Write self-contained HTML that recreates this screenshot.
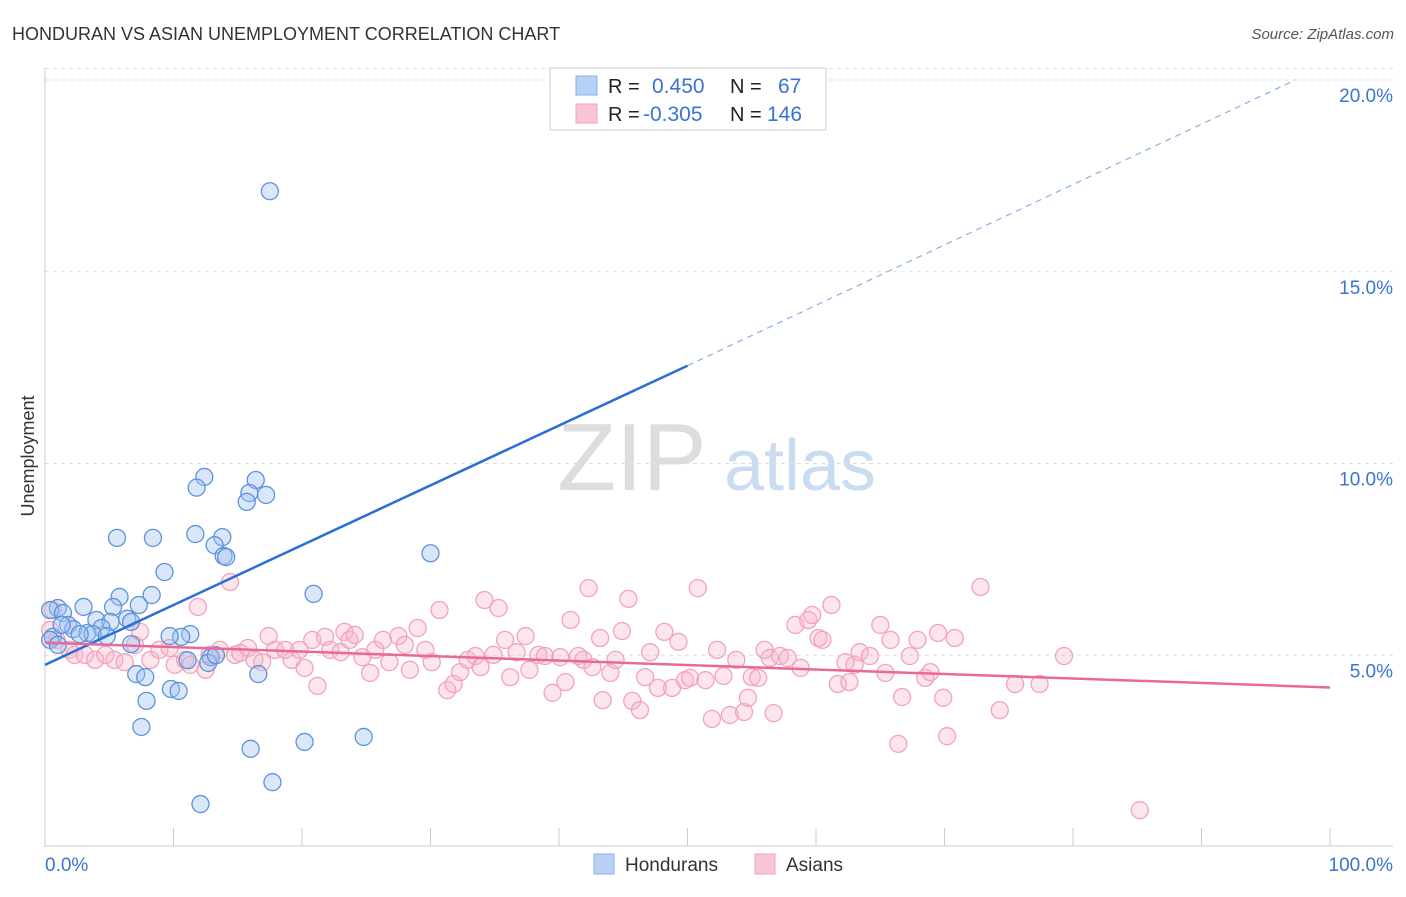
<!DOCTYPE html>
<html><head><meta charset="utf-8"><style>
body{margin:0;background:#fff;font-family:"Liberation Sans",sans-serif}
svg text{font-family:"Liberation Sans",sans-serif}
</style></head><body>
<svg id="c" width="1406" height="892" xmlns="http://www.w3.org/2000/svg">
<text x="12" y="40" font-size="18" fill="#333">HONDURAN VS ASIAN UNEMPLOYMENT CORRELATION CHART</text>
<text x="1394" y="39" font-size="15" fill="#555" text-anchor="end" font-style="italic">Source: ZipAtlas.com</text>
<text x="34" y="456" font-size="18" fill="#333" text-anchor="middle" transform="rotate(-90 34 456)">Unemployment</text>
<g><text x="632" y="490" font-size="96" fill="#ddd" text-anchor="middle" font-family="Liberation Serif">ZIP</text><text x="800" y="490" font-size="72" fill="#c9dcf0" text-anchor="middle">atlas</text></g>
<g id="grid"></g><g id="axes"></g><g id="pts"></g><g id="lines"></g>
<g>
<rect x="550" y="68" width="276" height="62" fill="#fff" stroke="#ccc"/>
<rect x="576" y="76" width="21" height="19" fill="#b7d0f5" stroke="#8ab0e6"/>
<rect x="576" y="104" width="21" height="19" fill="#f9c4d3" stroke="#f0a3ba"/>
<text x="608" y="93" font-size="20" fill="#222">R =</text><text x="652" y="93" font-size="21" fill="#3a73d0">0.450</text>
<text x="730" y="93" font-size="20" fill="#222">N =</text><text x="778" y="93" font-size="21" fill="#3a73d0">67</text>
<text x="608" y="121" font-size="20" fill="#222">R =</text><text x="643" y="121" font-size="21" fill="#3a73d0">-0.305</text>
<text x="730" y="121" font-size="20" fill="#222">N =</text><text x="767" y="121" font-size="21" fill="#3a73d0">146</text>
</g>
<g>
<rect x="594" y="854" width="20" height="20" fill="#b7d0f5" stroke="#8ab0e6"/><text x="625" y="871" font-size="19" fill="#333">Hondurans</text>
<rect x="755" y="854" width="20" height="20" fill="#f9c4d3" stroke="#f0a3ba"/><text x="786" y="871" font-size="19" fill="#333">Asians</text>
</g>
</svg>
<script>
const yTicks=[5,10,15,20];
const yTickLabels=["5.0%","10.0%","15.0%","20.0%"];
const xEnds=["0.0%","100.0%"];
const blueX=[17.5,12.4,11.8,16.4,15.9,17.2,15.7,5.6,8.4,11.7,13.8,13.2,13.9,14.1,30.0,9.3,20.9,8.3,5.8,7.3,5.3,3.0,1.0,0.4,1.4,4.0,6.4,5.1,6.7,1.8,2.2,4.4,3.3,3.7,4.8,11.3,10.6,9.7,0.6,0.4,1.0,6.7,7.1,7.8,11.1,12.9,12.7,16.6,9.8,10.4,7.9,7.5,16.0,20.2,24.8,17.7,12.1,1.3,2.7,13.3];
const blueY=[17.1,9.65,9.37,9.57,9.23,9.18,9.0,8.06,8.06,8.16,8.08,7.87,7.59,7.56,7.66,7.17,6.6,6.57,6.52,6.31,6.26,6.26,6.23,6.18,6.1,5.92,5.95,5.87,5.87,5.79,5.68,5.71,5.58,5.55,5.5,5.55,5.48,5.5,5.48,5.4,5.27,5.29,4.51,4.43,4.87,4.95,4.8,4.51,4.12,4.07,3.81,3.13,2.56,2.74,2.87,1.69,1.12,5.79,5.55,5.0];
const pinkX=[0.6,0.4,0.9,1.9,2.3,3.1,3.9,4.7,5.4,6.2,7.0,7.4,8.2,8.9,9.7,10.1,10.9,11.3,11.9,12.5,12.8,13.6,14.4,14.8,15.2,15.8,16.3,16.9,17.4,17.9,18.7,19.2,19.8,20.2,20.8,21.2,21.8,22.2,23.0,23.3,23.7,24.1,24.7,25.3,25.7,26.3,26.8,27.5,28.0,28.4,29.0,29.6,30.1,30.7,31.3,31.8,32.3,32.9,33.5,33.9,34.2,34.9,35.3,35.8,36.2,36.7,37.4,37.7,38.4,38.9,39.5,40.1,40.5,40.9,41.5,41.9,42.3,42.6,43.2,43.4,44.0,44.4,44.9,45.4,45.7,46.3,46.7,47.1,47.7,48.2,48.8,49.3,49.8,50.2,50.8,51.4,51.9,52.3,52.8,53.3,53.8,54.4,54.7,55.0,55.5,56.0,56.4,56.7,57.2,57.8,58.4,58.8,59.4,59.7,60.2,60.5,61.2,61.7,62.3,62.6,63.0,63.4,64.2,65.0,65.4,65.8,66.4,66.7,67.3,67.9,68.5,68.9,69.5,69.9,70.2,70.8,72.8,74.3,75.5,77.4,79.3,85.2];
const pinkY=[6.18,5.66,5.40,5.14,5.01,5.01,4.88,5.01,4.88,4.82,5.27,5.61,4.88,5.14,5.19,4.75,4.88,4.75,6.26,4.62,5.01,5.14,6.91,5.01,5.06,5.19,4.88,4.82,5.50,5.14,5.14,4.88,5.14,4.67,5.40,4.20,5.48,5.14,5.08,5.61,5.40,5.53,4.95,4.54,5.14,5.40,4.82,5.50,5.27,4.62,5.71,5.14,4.82,6.18,4.09,4.25,4.56,4.88,4.98,4.69,6.44,5.01,6.23,5.40,4.43,5.08,5.50,4.62,5.01,4.98,4.02,4.95,4.30,5.92,4.98,4.88,6.75,4.69,5.45,3.83,4.54,4.88,5.63,6.47,3.81,3.57,4.43,5.08,4.15,5.61,4.15,5.35,4.35,4.41,6.75,4.35,3.34,5.14,4.46,3.44,4.88,3.52,3.89,4.43,4.41,5.14,4.93,3.49,4.98,4.93,5.79,4.67,5.92,6.05,5.45,5.40,6.31,4.25,4.82,4.30,4.75,5.08,4.98,5.79,4.54,5.40,2.69,3.91,4.98,5.40,4.41,4.56,5.58,3.89,2.89,5.45,6.78,3.57,4.25,4.25,4.98,0.96];
const X=v=>45+v*12.85, Y=v=>847-v*38.35;
const NS="http://www.w3.org/2000/svg";
function mk(p,t,a){const e=document.createElementNS(NS,t);for(const k in a)e.setAttribute(k,a[k]);document.getElementById(p).appendChild(e);return e;}
yTicks.forEach((t,i)=>{
 const g=mk('grid','line',{x1:45,x2:1393,y1:Y(t),y2:Y(t),stroke:'#ddd','stroke-dasharray':'4 4'});
 
 
 const l=mk('axes','text',{x:1393,y:Y(t)+22,'font-size':19,fill:'#3a73d0','text-anchor':'end'});l.textContent=yTickLabels[i];
 
 
});
mk('grid','line',{x1:45,x2:1393,y1:Y(20.3),y2:Y(20.3),stroke:'#ddd','stroke-dasharray':'4 4'});
mk('axes','line',{x1:45,x2:45,y1:68,y2:847,stroke:'#ccc'});
mk('axes','line',{x1:45,x2:1393,y1:846,y2:846,stroke:'#ccc'});
for(let i=0;i<=10;i++){const t=mk('axes','line',{x1:X(i*10),x2:X(i*10),y1:828,y2:846,stroke:'#ccc'});
 
 }
let a=mk('axes','text',{x:45,y:871,'font-size':19,fill:'#3a73d0'});a.textContent=xEnds[0];
let b=mk('axes','text',{x:1393,y:871,'font-size':19,fill:'#3a73d0','text-anchor':'end'});b.textContent=xEnds[1];
pinkX.forEach((x,i)=>{const c=mk('pts','circle',{cx:X(x),cy:Y(pinkY[i]),r:8.5,fill:'rgba(249,180,200,0.35)',stroke:'#f2a3bb','stroke-width':1.3});
 
 });
blueX.forEach((x,i)=>{const c=mk('pts','circle',{cx:X(x),cy:Y(blueY[i]),r:8.5,fill:'rgba(160,195,240,0.4)',stroke:'#5d93dc','stroke-width':1.3});
 
 });
const bl=mk('lines','line',{x1:X(0),y1:Y(4.75),x2:X(50),y2:Y(12.55),stroke:'#2a6fd6','stroke-width':2.5});


const bd=mk('lines','line',{x1:X(50),y1:Y(12.55),x2:X(97.3),y2:Y(20),stroke:'#8ab0e6','stroke-width':1.2,'stroke-dasharray':'6 5'});


const pl=mk('lines','line',{x1:X(0),y1:Y(5.33),x2:X(100),y2:Y(4.16),stroke:'#e8689a','stroke-width':2.5});


</script>
</body></html>
